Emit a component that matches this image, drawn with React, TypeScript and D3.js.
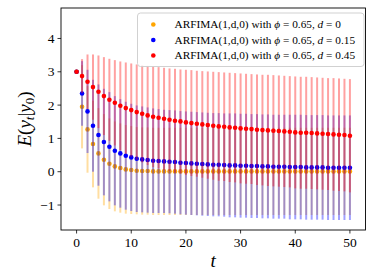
import React from 'react';
import * as d3 from 'd3';

const tValues = [0,1,2,3,4,5,6,7,8,9,10,11,12,13,14,15,16,17,18,19,20,21,22,23,24,25,26,27,28,29,30,31,32,33,34,35,36,37,38,39,40,41,42,43,44,45,46,47,48,49,50];

const meanD0 = [3.00,1.95,1.27,0.83,0.55,0.36,0.24,0.16,0.11,0.07,0.05,0.03,0.02,0.02,0.01,0.01,0.01,0.01,0.01,0.01,0.01,0.01,0.01,0.01,0.01,0.01,0.01,0.01,0.01,0.01,0.01,0.01,0.01,0.01,0.01,0.01,0.01,0.01,0.01,0.01,0.01,0.01,0.01,0.01,0.01,0.01,0.01,0.01,0.01,0.01,0.01];
const errD0 = [0,1.25,1.30,1.30,1.36,1.37,1.36,1.35,1.34,1.33,1.32,1.31,1.31,1.31,1.31,1.31,1.31,1.31,1.31,1.31,1.31,1.31,1.31,1.31,1.31,1.31,1.31,1.31,1.31,1.31,1.31,1.31,1.31,1.31,1.31,1.31,1.31,1.31,1.31,1.31,1.31,1.31,1.31,1.31,1.31,1.31,1.31,1.31,1.31,1.31,1.31];

const meanD015 = [3.00,2.35,1.81,1.38,1.10,0.89,0.75,0.63,0.55,0.48,0.43,0.39,0.37,0.35,0.33,0.32,0.31,0.30,0.29,0.27,0.26,0.25,0.24,0.23,0.22,0.21,0.21,0.20,0.19,0.19,0.18,0.18,0.17,0.17,0.16,0.16,0.15,0.15,0.15,0.14,0.14,0.14,0.13,0.13,0.13,0.13,0.12,0.12,0.12,0.12,0.12];
const errD015 = [0,0.97,1.25,1.38,1.52,1.60,1.64,1.64,1.63,1.62,1.61,1.60,1.59,1.58,1.57,1.56,1.55,1.55,1.55,1.55,1.55,1.55,1.55,1.55,1.55,1.55,1.55,1.55,1.56,1.56,1.56,1.56,1.56,1.56,1.56,1.56,1.56,1.56,1.56,1.57,1.57,1.57,1.57,1.57,1.57,1.57,1.57,1.57,1.57,1.57,1.57];

const meanD045 = [3.00,2.87,2.70,2.54,2.40,2.27,2.16,2.07,1.98,1.91,1.85,1.79,1.74,1.69,1.65,1.62,1.59,1.56,1.53,1.51,1.48,1.46,1.44,1.42,1.40,1.38,1.36,1.35,1.33,1.32,1.30,1.29,1.28,1.26,1.25,1.24,1.23,1.22,1.21,1.20,1.18,1.17,1.17,1.16,1.15,1.14,1.13,1.12,1.11,1.10,1.08];
const errD045 = [0,0.51,0.82,0.98,1.09,1.17,1.23,1.28,1.33,1.37,1.40,1.43,1.46,1.49,1.51,1.52,1.53,1.54,1.56,1.56,1.58,1.59,1.59,1.60,1.61,1.62,1.63,1.63,1.64,1.64,1.65,1.65,1.65,1.66,1.66,1.67,1.67,1.67,1.67,1.67,1.68,1.68,1.68,1.68,1.68,1.68,1.68,1.69,1.69,1.69,1.70];

const seriesColors = ['#ffa500', '#0000ff', '#ff0000'];
const seriesLabelsD = ['0', '0.15', '0.45'];

const xTicks = [0, 10, 20, 30, 40, 50];
const yTicks = [-1, 0, 1, 2, 3, 4];

const FONT = '"Liberation Serif", "Times New Roman", serif';

export default function App() {
  const W = 374, H = 280;
  const left = 61, right = 365.5, top = 8, bottom = 230;
  const x = d3.scaleLinear().domain([-2.85, 52.85]).range([left, right]);
  const y = d3.scaleLinear().domain([-1.75, 4.915]).range([bottom, top]);

  const series = [
    { mean: meanD0, err: errD0 },
    { mean: meanD015, err: errD015 },
    { mean: meanD045, err: errD045 },
  ];

  return (
    <svg width={W} height={H} style={{ position: 'absolute', left: 0, top: 0, background: '#fff' }} fontFamily={FONT}>
      <rect x={0} y={0} width={W} height={H} fill="#fff" />
      {series.map((s, si) => (
        <g key={si}>
          {tValues.map((t, i) => s.err[i] > 0 ? (
            <line key={'b' + i} x1={x(t)} x2={x(t)} y1={y(s.mean[i] - s.err[i])} y2={y(s.mean[i] + s.err[i])}
              stroke={seriesColors[si]} strokeOpacity={0.37} strokeWidth={2} />
          ) : null)}
          {tValues.map((t, i) => (
            <circle key={'p' + i} cx={x(t)} cy={y(s.mean[i])} r={2.3} fill={seriesColors[si]} />
          ))}
        </g>
      ))}
      {/* frame */}
      <rect x={left} y={top} width={right - left} height={bottom - top} fill="none" stroke="#000" strokeWidth={0.9} />
      {/* x ticks */}
      {xTicks.map(t => (
        <g key={'xt' + t}>
          <line x1={x(t)} x2={x(t)} y1={bottom} y2={bottom + 3.5} stroke="#000" strokeWidth={0.8} />
          <text x={x(t)} y={bottom + 17} textAnchor="middle" fontSize={13.5}>{t}</text>
        </g>
      ))}
      {yTicks.map(v => (
        <g key={'yt' + v}>
          <line x1={left - 3.5} x2={left} y1={y(v)} y2={y(v)} stroke="#000" strokeWidth={0.8} />
          <text x={left - 6.5} y={y(v) + 4.6} textAnchor="end" fontSize={13.5}>{v < 0 ? '\u2212' + Math.abs(v) : v}</text>
        </g>
      ))}
      {/* axis labels */}
      <text x={(left + right) / 2} y={267} textAnchor="middle" fontSize={19} fontStyle="italic">t</text>
      <text transform={`translate(31, ${(top + bottom) / 2}) rotate(-90)`} textAnchor="middle" fontSize={19}>
        <tspan fontStyle="italic">E</tspan>(<tspan fontStyle="italic">y</tspan><tspan fontStyle="italic" fontSize={13} dy={3}>t</tspan><tspan dy={-3}>|</tspan><tspan fontStyle="italic">y</tspan><tspan fontSize={13} dy={3}>0</tspan><tspan dy={-3}>)</tspan>
      </text>
      {/* legend */}
      <rect x={137.5} y={13} width={226.5} height={53.5} rx={3} fill="#fff" fillOpacity={0.8} stroke="#cccccc" strokeWidth={0.9} />
      {seriesLabelsD.map((d, i) => {
        const cy = 24.5 + i * 15.5;
        return (
          <g key={'lg' + i}>
            <circle cx={153.3} cy={cy} r={2.3} fill={seriesColors[i]} />
            <text x={174.5} y={cy + 3.8} fontSize={11.3}>
              ARFIMA(1,d,0) with <tspan fontStyle="italic">ϕ</tspan> = 0.65, <tspan fontStyle="italic">d</tspan> = {d}
            </text>
          </g>
        );
      })}
    </svg>
  );
}
